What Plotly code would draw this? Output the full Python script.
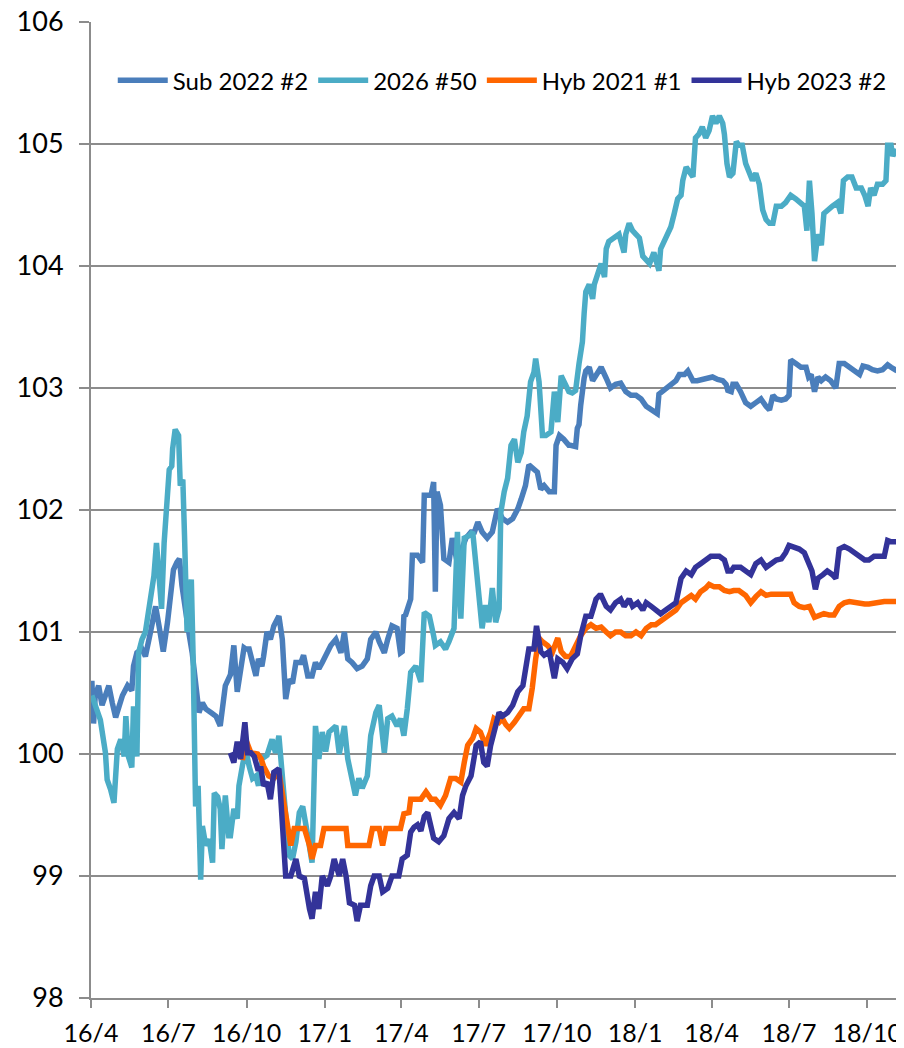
import pandas as pd
import plotly.graph_objects as go

START = "2016-04-01"  # day 0 of the day offsets below

series_names = ["Sub 2022 #2", "2026 #50", "Hyb 2021 #1", "Hyb 2023 #2"]
series_colors = ["#4A7EBB", "#4BACC6", "#FF6600", "#333399"]

tick_dates = ["2016-04-01", "2016-07-01", "2016-10-01", "2017-01-01", "2017-04-01",
              "2017-07-01", "2017-10-01", "2018-01-01", "2018-04-01", "2018-07-01",
              "2018-10-01"]
tick_labels = ["16/4", "16/7", "16/10", "17/1", "17/4", "17/7", "17/10", "18/1",
               "18/4", "18/7", "18/10"]

# ---- Sub 2022 #2 ----
sub_day = [1, 3, 5, 9, 13, 17, 21, 25, 29, 33, 37, 43, 48, 50, 54, 60, 64, 70, 76, 80,
           85, 90, 94, 97, 101, 104, 107, 111, 115, 119, 123, 127, 131, 135, 141, 147, 152, 158, 164, 168,
           172, 176, 180, 182, 186, 190, 194, 197, 201, 203, 207, 211, 215, 221, 225, 229, 233, 237, 241, 247,
           250, 255, 260, 264, 268, 272, 276, 282, 288, 294, 298, 302, 307, 313, 319, 325, 329, 335, 339, 345,
           349, 354, 360, 364, 366, 368, 370, 374, 376, 378, 384, 390, 392, 400, 403, 405, 407, 411, 415, 421,
           425, 429, 435, 441, 447, 451, 455, 460, 466, 472, 478, 484, 490, 496, 502, 506, 511, 515, 521, 525,
           529, 533, 539, 545, 547, 551, 556, 558, 562, 564, 570, 572, 574, 576, 578, 580, 582, 586, 590, 594,
           600, 606, 611, 617, 623, 629, 635, 641, 647, 653, 659, 666, 668, 674, 682, 688, 692, 698, 702, 708,
           713, 719, 725, 731, 737, 741, 743, 747, 749, 753, 755, 759, 762, 764, 770, 776, 782, 788, 794, 798,
           802, 806, 812, 817, 821, 823, 829, 835, 841, 844, 847, 851, 855, 859, 864, 870, 876, 880, 886, 892,
           898, 904, 908, 914, 919, 925, 931, 937, 941, 948]
sub_val = [100.60, 100.25, 100.48, 100.56, 100.40, 100.50, 100.56, 100.42, 100.30, 100.39,
           100.48, 100.56, 100.52, 100.72, 100.83, 100.86, 100.80, 101.00, 101.21, 101.05,
           100.84, 101.08, 101.38, 101.51, 101.57, 101.60, 101.38, 101.16, 101.00, 100.83,
           100.61, 100.34, 100.42, 100.37, 100.34, 100.31, 100.23, 100.56, 100.65, 100.89,
           100.51, 100.67, 100.87, 100.86, 100.86, 100.75, 100.64, 100.78, 100.72, 100.80,
           101.00, 100.94, 101.05, 101.13, 100.94, 100.45, 100.61, 100.58, 100.75, 100.75,
           100.81, 100.64, 100.64, 100.75, 100.70, 100.75, 100.81, 100.89, 100.94, 100.83,
           101.00, 100.78, 100.75, 100.70, 100.72, 100.78, 100.94, 101.00, 100.92, 100.83,
           100.94, 101.05, 101.03, 100.83, 100.84, 101.13, 101.14, 101.22, 101.27, 101.63,
           101.63, 101.57, 102.12, 102.12, 102.23, 101.33, 102.15, 102.04, 101.60, 101.57,
           101.77, 101.63, 101.66, 101.77, 101.82, 101.82, 101.90, 101.82, 101.77, 101.82,
           102.01, 101.93, 101.90, 101.93, 102.01, 102.09, 102.20, 102.37, 102.34, 102.31,
           102.17, 102.20, 102.15, 102.15, 102.53, 102.61, 102.58, 102.56, 102.53, 102.53,
           102.52, 102.67, 102.70, 102.86, 103.00, 103.08, 103.14, 103.17, 103.06, 103.11,
           103.17, 103.08, 103.00, 103.03, 103.04, 102.97, 102.94, 102.94, 102.91, 102.85,
           102.82, 102.79, 102.95, 102.98, 103.03, 103.06, 103.11, 103.11, 103.14, 103.06,
           103.06, 103.07, 103.09, 103.09, 103.07, 103.06, 103.06, 103.03, 102.98, 102.97,
           103.03, 103.03, 103.00, 102.97, 102.88, 102.85, 102.88, 102.91, 102.85, 102.82,
           102.94, 102.91, 102.90, 102.91, 102.94, 103.23, 103.20, 103.17, 103.17, 103.09,
           103.11, 102.97, 103.09, 103.06, 103.09, 103.06, 103.00, 103.20, 103.20, 103.17,
           103.14, 103.11, 103.18, 103.17, 103.15, 103.14, 103.15, 103.19, 103.17, 103.14]

# ---- 2026 #50 ----
b26_day = [1, 11, 17, 19, 23, 27, 31, 35, 39, 41, 44, 48, 50, 54, 56, 60, 64, 66, 70, 74,
           77, 80, 83, 86, 89, 92, 95, 96, 99, 103, 105, 108, 110, 113, 116, 118, 120, 123, 126, 129,
           131, 135, 139, 143, 145, 149, 152, 154, 158, 162, 164, 168, 172, 174, 178, 182, 186, 190, 194, 197,
           201, 207, 213, 217, 221, 225, 229, 233, 237, 241, 245, 249, 253, 257, 260, 264, 268, 272, 276, 280,
           284, 288, 292, 298, 302, 306, 311, 315, 319, 325, 329, 335, 339, 345, 349, 354, 360, 364, 368, 372,
           376, 382, 388, 392, 398, 403, 405, 411, 417, 421, 427, 431, 435, 439, 445, 449, 453, 456, 460, 464,
           468, 472, 476, 480, 482, 486, 490, 494, 498, 502, 506, 509, 513, 517, 521, 523, 527, 531, 535, 541,
           545, 549, 553, 558, 562, 566, 570, 574, 578, 580, 582, 586, 590, 592, 596, 600, 604, 606, 609, 615,
           621, 627, 629, 633, 637, 641, 645, 649, 653, 657, 662, 668, 670, 674, 678, 682, 686, 690, 694, 696,
           700, 704, 708, 711, 715, 719, 723, 727, 731, 735, 739, 743, 745, 748, 751, 755, 759, 762, 766, 770,
           774, 778, 782, 786, 790, 794, 798, 802, 806, 812, 817, 823, 829, 835, 839, 842, 845, 848, 851, 855,
           859, 862, 866, 872, 878, 882, 885, 890, 895, 900, 906, 910, 914, 917, 921, 925, 931, 935, 937, 941,
           943, 947]
b26_val = [100.48, 100.28, 100.01, 99.79, 99.71, 99.60, 100.04, 100.12, 99.98, 100.31,
           99.98, 99.89, 100.39, 99.98, 100.83, 100.94, 101.00, 101.10, 101.27, 101.46,
           101.73, 101.38, 101.19, 101.73, 102.11, 102.33, 102.36, 102.50, 102.66, 102.61,
           102.20, 102.25, 101.79, 101.00, 101.21, 101.43, 100.83, 99.57, 99.74, 98.97,
           99.41, 99.25, 99.30, 99.11, 99.68, 99.65, 99.55, 99.22, 99.66, 99.33,
           99.33, 99.55, 99.47, 99.74, 99.90, 100.04, 99.90, 99.80, 99.82, 99.74,
           99.96, 99.99, 100.12, 100.01, 100.15, 99.80, 99.55, 99.17, 99.14, 99.28,
           99.52, 99.57, 99.41, 99.19, 99.11, 100.23, 99.96, 100.18, 100.02, 100.18,
           100.20, 100.23, 100.00, 100.23, 99.96, 99.80, 99.66, 99.80, 99.72, 99.82,
           100.15, 100.34, 100.40, 100.01, 100.29, 100.31, 100.23, 100.29, 100.15, 100.37,
           100.67, 100.72, 100.59, 101.16, 101.13, 100.97, 100.89, 100.92, 100.86, 100.92,
           101.03, 101.82, 101.11, 101.77, 101.79, 101.82, 101.49, 101.30, 101.03, 101.22,
           101.08, 101.36, 101.08, 101.19, 101.98, 102.15, 102.26, 102.53, 102.58, 102.39,
           102.47, 102.64, 102.77, 103.05, 103.13, 103.24, 103.05, 102.61, 102.61, 102.64,
           102.97, 102.72, 103.10, 103.03, 102.97, 102.96, 102.98, 103.20, 103.38, 103.61,
           103.79, 103.85, 103.73, 103.85, 103.94, 104.02, 103.91, 104.14, 104.20, 104.23,
           104.26, 104.11, 104.26, 104.35, 104.29, 104.26, 104.23, 104.08, 104.05, 104.02,
           104.11, 103.96, 104.14, 104.20, 104.26, 104.32, 104.43, 104.55, 104.58, 104.70,
           104.81, 104.76, 104.73, 105.05, 105.08, 105.14, 105.05, 105.11, 105.23, 105.17,
           105.23, 105.17, 105.08, 104.84, 104.73, 104.76, 105.02, 104.99, 104.99, 104.84,
           104.78, 104.70, 104.76, 104.67, 104.46, 104.38, 104.35, 104.35, 104.49, 104.49,
           104.52, 104.58, 104.55, 104.52, 104.49, 104.29, 104.70, 104.43, 104.04, 104.26,
           104.17, 104.43, 104.46, 104.49, 104.52, 104.43, 104.70, 104.73, 104.73, 104.64,
           104.64, 104.58, 104.49, 104.64, 104.58, 104.67, 104.67, 104.70, 104.99, 104.99,
           104.90, 104.96]

# ---- Hyb 2021 #1 ----
h21_day = [178, 182, 188, 196, 200, 203, 209, 215, 221, 227, 231, 235, 239, 251, 257, 260, 264, 270, 274, 300,
           302, 327, 331, 339, 343, 347, 364, 368, 374, 376, 382, 388, 394, 400, 405, 411, 417, 423, 429, 435,
           439, 443, 449, 453, 458, 464, 470, 474, 480, 484, 488, 492, 498, 504, 509, 515, 519, 523, 527, 531,
           537, 543, 549, 553, 558, 564, 570, 576, 582, 588, 594, 600, 606, 611, 617, 623, 629, 635, 641, 647,
           653, 659, 664, 670, 676, 682, 688, 694, 700, 706, 711, 717, 723, 727, 733, 739, 745, 751, 756, 762,
           770, 776, 782, 788, 794, 800, 812, 823, 827, 833, 839, 845, 851, 857, 862, 868, 874, 880, 886, 892,
           898, 904, 910, 915, 921, 927, 933, 939, 945, 948]
h21_val = [99.95, 100.12, 100.01, 100.00, 99.96, 99.90, 99.82, 99.80, 99.85, 99.58,
           99.39, 99.25, 99.39, 99.39, 99.25, 99.14, 99.25, 99.25, 99.39, 99.39,
           99.25, 99.25, 99.39, 99.39, 99.25, 99.39, 99.39, 99.51, 99.52, 99.63,
           99.63, 99.63, 99.69, 99.63, 99.63, 99.58, 99.66, 99.80, 99.80, 99.77,
           99.93, 100.07, 100.13, 100.21, 100.18, 100.07, 100.18, 100.29, 100.26, 100.29,
           100.24, 100.21, 100.26, 100.32, 100.37, 100.37, 100.54, 100.78, 100.95, 100.92,
           100.89, 100.84, 100.95, 100.84, 100.80, 100.80, 100.89, 100.97, 101.03, 101.06,
           101.03, 101.04, 101.00, 100.97, 101.00, 101.00, 100.97, 100.97, 101.00, 100.97,
           101.03, 101.06, 101.06, 101.09, 101.12, 101.15, 101.18, 101.24, 101.27, 101.30,
           101.27, 101.33, 101.36, 101.39, 101.37, 101.37, 101.34, 101.33, 101.34, 101.34,
           101.30, 101.24, 101.29, 101.33, 101.30, 101.31, 101.31, 101.31, 101.24, 101.21,
           101.20, 101.21, 101.12, 101.14, 101.15, 101.14, 101.14, 101.21, 101.24, 101.25,
           101.24, 101.24, 101.23, 101.23, 101.24, 101.24, 101.25, 101.25, 101.25, 101.25]

# ---- Hyb 2023 #2 ----
h23_day = [164, 168, 172, 176, 181, 184, 188, 192, 196, 200, 203, 207, 211, 215, 221, 225, 229, 235, 241, 245,
           251, 257, 260, 264, 268, 272, 278, 282, 286, 292, 296, 300, 304, 310, 313, 317, 325, 329, 333, 339,
           343, 349, 354, 362, 366, 372, 376, 380, 384, 388, 392, 396, 400, 403, 409, 415, 421, 427, 433, 437,
           441, 447, 453, 458, 462, 466, 470, 476, 480, 484, 490, 496, 502, 508, 511, 515, 521, 524, 529, 533,
           539, 545, 549, 555, 560, 566, 572, 576, 582, 588, 592, 594, 598, 600, 606, 611, 617, 623, 627, 633,
           637, 643, 649, 653, 659, 664, 670, 676, 682, 688, 694, 700, 706, 711, 717, 723, 729, 733, 739, 745,
           749, 753, 756, 764, 770, 776, 782, 788, 794, 800, 806, 812, 817, 821, 827, 833, 839, 844, 848, 852,
           855, 861, 866, 872, 876, 880, 886, 892, 898, 904, 910, 915, 921, 927, 933, 937, 941, 948]
h23_val = [100.01, 99.93, 100.10, 99.96, 100.26, 100.01, 100.01, 99.98, 99.88, 99.88,
           99.74, 99.77, 99.63, 99.85, 99.88, 99.49, 99.00, 99.00, 99.14, 99.00,
           98.98, 98.73, 98.65, 98.87, 98.73, 99.00, 98.92, 99.00, 99.14, 99.00,
           99.14, 99.00, 98.78, 98.76, 98.63, 98.76, 98.76, 98.92, 99.00, 99.00,
           98.87, 98.90, 99.00, 99.00, 99.14, 99.17, 99.36, 99.40, 99.42, 99.37,
           99.49, 99.52, 99.42, 99.31, 99.28, 99.33, 99.47, 99.52, 99.47, 99.66,
           99.74, 99.82, 100.07, 100.10, 99.93, 99.90, 100.07, 100.21, 100.34, 100.31,
           100.34, 100.40, 100.51, 100.56, 100.67, 100.86, 100.86, 101.05, 100.84, 100.81,
           100.84, 100.62, 100.78, 100.75, 100.70, 100.78, 100.82, 100.97, 101.13, 101.13,
           101.22, 101.27, 101.30, 101.30, 101.21, 101.18, 101.24, 101.27, 101.21, 101.27,
           101.21, 101.24, 101.18, 101.24, 101.21, 101.18, 101.15, 101.18, 101.21, 101.24,
           101.44, 101.50, 101.47, 101.53, 101.56, 101.59, 101.62, 101.62, 101.62, 101.59,
           101.50, 101.50, 101.53, 101.53, 101.50, 101.47, 101.56, 101.59, 101.53, 101.56,
           101.59, 101.60, 101.65, 101.71, 101.70, 101.68, 101.65, 101.56, 101.50, 101.35,
           101.44, 101.47, 101.50, 101.47, 101.44, 101.68, 101.70, 101.68, 101.65, 101.62,
           101.59, 101.59, 101.62, 101.62, 101.62, 101.75, 101.74, 101.74]

all_days = [sub_day, b26_day, h21_day, h23_day]
all_vals = [sub_val, b26_val, h21_val, h23_val]

start = pd.Timestamp(START)
fig = go.Figure()
for name, color, d, v in zip(series_names, series_colors, all_days, all_vals):
    dates = start + pd.to_timedelta(d, unit="D")
    fig.add_trace(go.Scatter(x=dates, y=v, mode="lines", name=name,
                             line=dict(color=color, width=5.5)))

GRID = "#8C8C8C"
# the page body adds an 8 px margin, so the figure is 896 x 1040
fig.update_layout(
    width=896, height=1040,
    margin=dict(l=83, r=7, t=14, b=50),
    paper_bgcolor="white", plot_bgcolor="white",
    font=dict(family="Lato, Open Sans, sans-serif", color="#000000", size=26),
    showlegend=True,
    legend=dict(orientation="h", x=0.027, y=0.94, xanchor="left", yanchor="middle",
                bgcolor="rgba(0,0,0,0)", font=dict(size=24), itemwidth=50,
                traceorder="normal", tracegroupgap=0),
)
fig.update_xaxes(
    type="date", range=["2016-04-01", "2018-11-05"], automargin=False,
    tickvals=tick_dates, ticktext=tick_labels, ticklabeloverflow="allow",
    showgrid=False, zeroline=False,
    showline=True, linecolor=GRID, linewidth=2,
    ticks="outside", ticklen=8, tickwidth=2, tickcolor=GRID,
    tickfont=dict(size=25), ticklabelstandoff=4,
)
fig.update_yaxes(
    range=[98, 106], dtick=1, tick0=98, automargin=False, ticklabeloverflow="allow",
    showgrid=True, gridcolor=GRID, gridwidth=2, zeroline=False,
    showline=True, linecolor=GRID, linewidth=2,
    ticks="outside", ticklen=10, tickwidth=2, tickcolor=GRID,
    tickfont=dict(size=27), ticklabelstandoff=10,
)
fig.write_html("out.html")
